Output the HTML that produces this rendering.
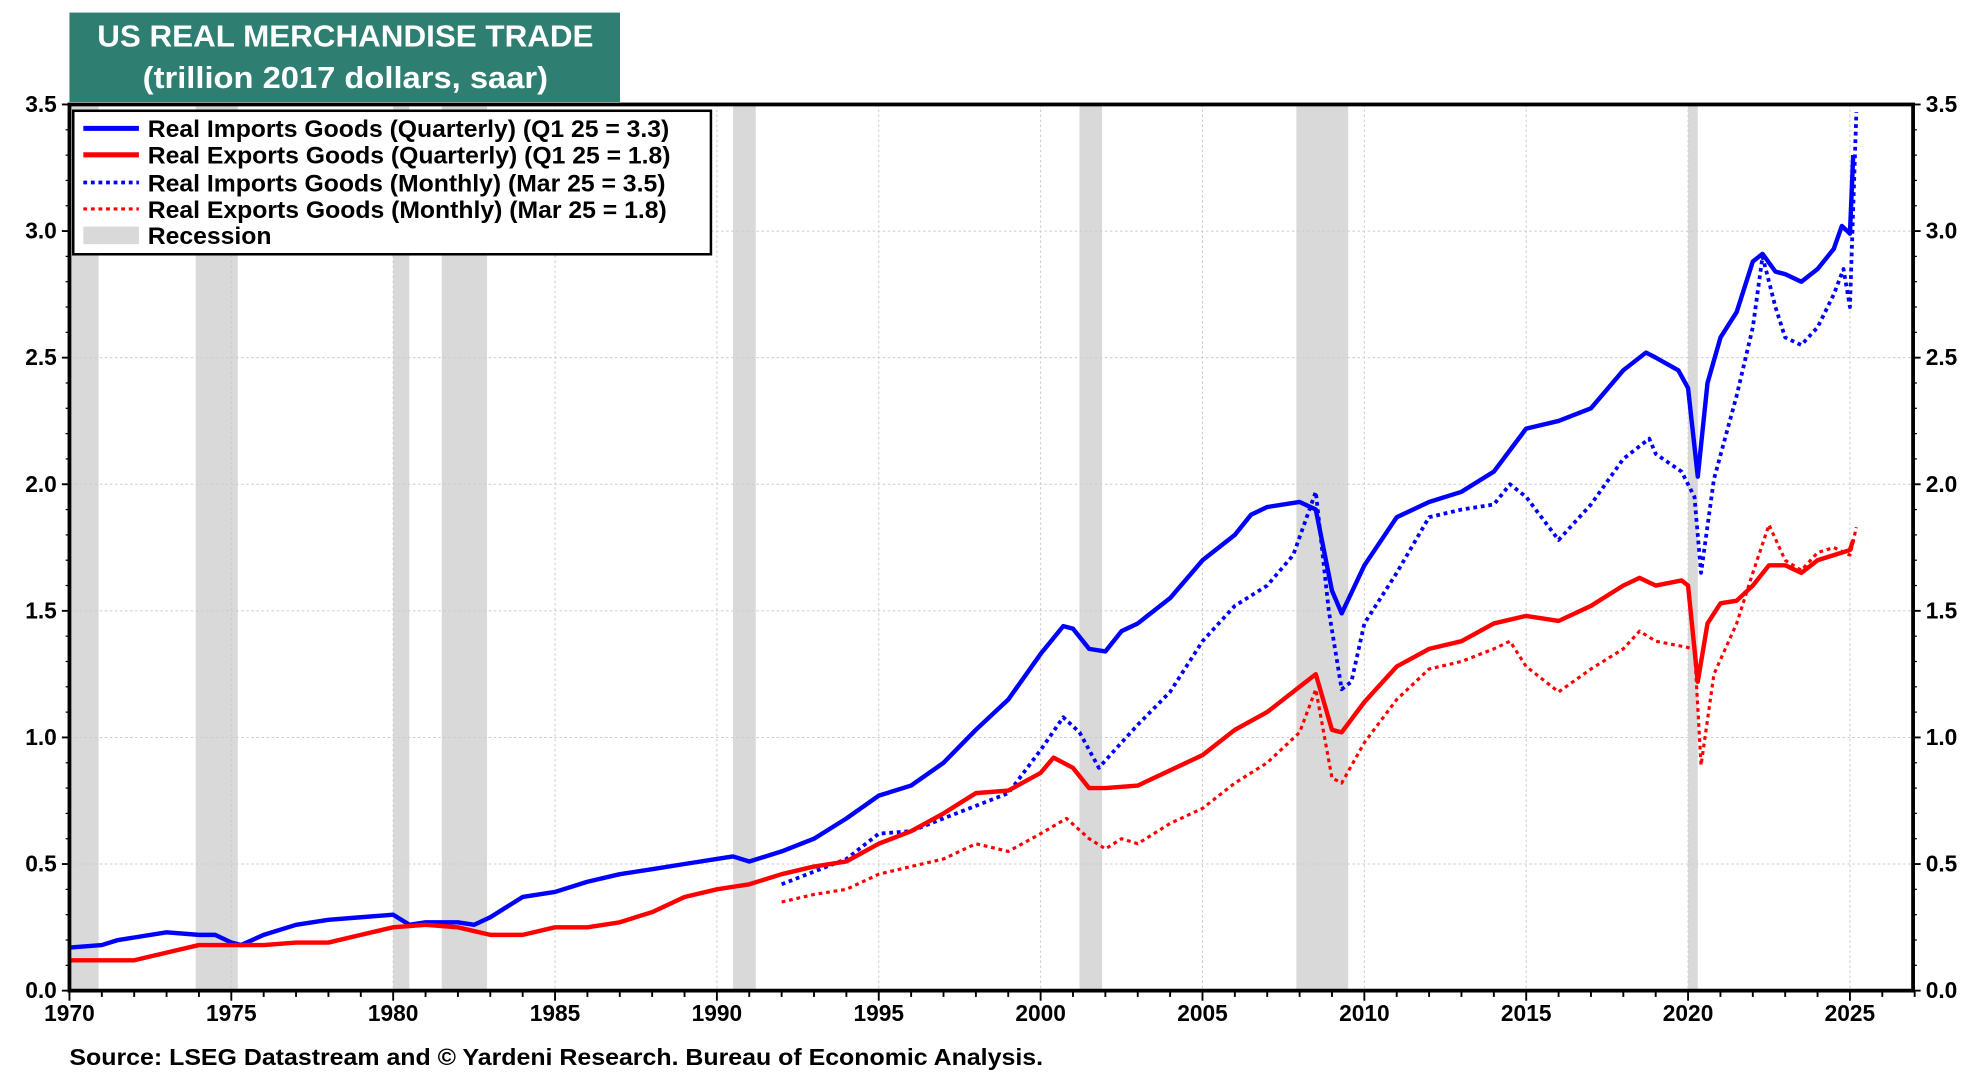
<!DOCTYPE html>
<html><head><meta charset="utf-8">
<style>
html,body{margin:0;padding:0;background:#fff;}
svg{display:block;font-family:"Liberation Sans",Arial,sans-serif;font-weight:bold;}
</style></head>
<body>
<svg id="chart" width="1980" height="1080" viewBox="0 0 1568 858" preserveAspectRatio="none" xmlns="http://www.w3.org/2000/svg">
  <rect x="55" y="10" width="436" height="71" fill="#2e7f71"/>
  <text x="77" y="37" fill="#fff" font-size="24" textLength="393" lengthAdjust="spacingAndGlyphs">US REAL MERCHANDISE TRADE</text>
  <text x="113" y="70" fill="#fff" font-size="24" textLength="321" lengthAdjust="spacingAndGlyphs">(trillion 2017 dollars, saar)</text>
  <g id="rec"></g>
  <g id="grid"></g>
  <g id="series"></g>
  <g id="axes"></g>
  <g>
    <rect x="58" y="88" width="505" height="114" fill="#fff" stroke="#000" stroke-width="2"/>
    <line x1="66" y1="102" x2="110" y2="102" stroke="#0000ff" stroke-width="4"/>
    <text x="117" y="109" font-size="19" textLength="413" lengthAdjust="spacingAndGlyphs">Real Imports Goods (Quarterly) (Q1 25 = 3.3)</text>
    <line x1="66" y1="123" x2="110" y2="123" stroke="#ff0000" stroke-width="4"/>
    <text x="117" y="130" font-size="19" textLength="414" lengthAdjust="spacingAndGlyphs">Real Exports Goods (Quarterly) (Q1 25 = 1.8)</text>
    <line x1="66" y1="145" x2="110" y2="145" stroke="#0000ff" stroke-width="3" stroke-dasharray="3,3"/>
    <text x="117" y="152" font-size="19" textLength="410" lengthAdjust="spacingAndGlyphs">Real Imports Goods (Monthly) (Mar 25 = 3.5)</text>
    <line x1="66" y1="166" x2="110" y2="166" stroke="#ff0000" stroke-width="2.5" stroke-dasharray="3,3"/>
    <text x="117" y="173" font-size="19" textLength="411" lengthAdjust="spacingAndGlyphs">Real Exports Goods (Monthly) (Mar 25 = 1.8)</text>
    <rect x="66" y="180" width="44" height="14" fill="#d9d9d9"/>
    <text x="117" y="194" font-size="19" textLength="98" lengthAdjust="spacingAndGlyphs">Recession</text>
  </g>
  <text x="55" y="846" font-size="18" textLength="771" lengthAdjust="spacingAndGlyphs">Source: LSEG Datastream and © Yardeni Research. Bureau of Economic Analysis.</text>
</svg>
<script>
const yTicks = [0, 0.5, 1.0, 1.5, 2.0, 2.5, 3.0, 3.5];
const yTickLabels = ["0.0","0.5","1.0","1.5","2.0","2.5","3.0","3.5"];
const xTicks = [1970,1975,1980,1985,1990,1995,2000,2005,2010,2015,2020,2025];
const recStart = [1970.0,1973.9,1980.0,1981.5,1990.5,2001.2,2007.9,2020.0];
const recEnd   = [1970.9,1975.2,1980.5,1982.9,1991.2,2001.9,2009.5,2020.3];

const impQYears = [1970,1971,1971.5,1972,1973,1974,1974.5,1975,1975.3,1976,1977,1978,1979,1980,1980.5,1981,1982,1982.5,1983,1984,1985,1986,1987,1988,1989,1990,1990.5,1991,1992,1993,1994,1995,1996,1997,1998,1999,2000,2000.7,2001,2001.5,2002,2002.5,2003,2004,2005,2006,2006.5,2007,2008,2008.5,2009,2009.3,2010,2011,2012,2013,2014,2015,2016,2017,2018,2018.7,2019,2019.7,2020.0,2020.3,2020.6,2021,2021.5,2022.0,2022.3,2022.7,2023,2023.5,2024,2024.5,2024.75,2025,2025.1];
const impQVals = [0.17,0.18,0.2,0.21,0.23,0.22,0.22,0.19,0.18,0.22,0.26,0.28,0.29,0.30,0.26,0.27,0.27,0.26,0.29,0.37,0.39,0.43,0.46,0.48,0.50,0.52,0.53,0.51,0.55,0.60,0.68,0.77,0.81,0.90,1.03,1.15,1.33,1.44,1.43,1.35,1.34,1.42,1.45,1.55,1.70,1.80,1.88,1.91,1.93,1.90,1.58,1.49,1.68,1.87,1.93,1.97,2.05,2.22,2.25,2.30,2.45,2.52,2.50,2.45,2.38,2.03,2.40,2.58,2.68,2.88,2.91,2.84,2.83,2.80,2.85,2.93,3.02,2.99,3.30];

const expQYears = [1970,1972,1973,1974,1975,1976,1977,1978,1979,1980,1981,1982,1983,1984,1985,1986,1987,1988,1989,1990,1991,1992,1993,1994,1995,1996,1997,1998,1999,2000,2000.4,2001,2001.5,2002,2003,2004,2005,2006,2007,2008,2008.5,2009,2009.3,2010,2011,2012,2013,2014,2015,2016,2017,2018,2018.5,2019,2019.8,2020.0,2020.3,2020.6,2021,2021.5,2022,2022.5,2023,2023.5,2024,2024.5,2025,2025.1];
const expQVals = [0.12,0.12,0.15,0.18,0.18,0.18,0.19,0.19,0.22,0.25,0.26,0.25,0.22,0.22,0.25,0.25,0.27,0.31,0.37,0.40,0.42,0.46,0.49,0.51,0.58,0.63,0.70,0.78,0.79,0.86,0.92,0.88,0.80,0.80,0.81,0.87,0.93,1.03,1.10,1.20,1.25,1.03,1.02,1.14,1.28,1.35,1.38,1.45,1.48,1.46,1.52,1.60,1.63,1.60,1.62,1.60,1.22,1.45,1.53,1.54,1.60,1.68,1.68,1.65,1.70,1.72,1.74,1.78];

const impMYears = [1992,1993,1994,1995,1996,1997,1998,1999,2000,2000.7,2001.2,2001.8,2002.5,2003,2004,2005,2006,2007,2007.8,2008.5,2008.9,2009.3,2009.6,2010,2011,2012,2013,2014,2014.5,2015,2016,2017,2018,2018.8,2019,2019.8,2020.2,2020.4,2020.8,2021.5,2022.0,2022.3,2022.7,2023,2023.5,2024,2024.5,2024.8,2025.0,2025.2];
const impMVals = [0.42,0.47,0.52,0.62,0.63,0.68,0.73,0.78,0.95,1.08,1.02,0.88,0.98,1.05,1.18,1.38,1.52,1.60,1.72,1.97,1.50,1.19,1.22,1.45,1.65,1.87,1.90,1.92,2.00,1.95,1.78,1.92,2.10,2.18,2.12,2.05,1.95,1.65,2.02,2.35,2.62,2.90,2.70,2.58,2.55,2.62,2.75,2.85,2.70,3.47];

const expMYears = [1992,1993,1994,1995,1996,1997,1998,1999,2000,2000.8,2001.5,2002,2002.5,2003,2004,2005,2006,2007,2008,2008.5,2009,2009.3,2010,2011,2012,2013,2014,2014.5,2015,2016,2017,2018,2018.5,2019,2019.8,2020.2,2020.4,2020.8,2021.5,2022,2022.5,2023,2023.5,2024,2024.5,2025,2025.2];
const expMVals = [0.35,0.38,0.40,0.46,0.49,0.52,0.58,0.55,0.62,0.68,0.60,0.56,0.60,0.58,0.66,0.72,0.82,0.90,1.02,1.19,0.84,0.82,0.98,1.15,1.27,1.30,1.35,1.38,1.28,1.18,1.27,1.35,1.42,1.38,1.36,1.35,0.89,1.25,1.45,1.65,1.84,1.70,1.66,1.73,1.75,1.72,1.83];

const NS = "http://www.w3.org/2000/svg";
const L = 55, R = 1515, T = 83, B = 787;
const xS = yr => L + (yr - 1970) * (1410 / 55);
const yS = v => B - v * ((B - T) / 3.5);
function mk(tag, attrs, parent) {
  const e = document.createElementNS(NS, tag);
  for (const k in attrs) e.setAttribute(k, attrs[k]);
  parent.appendChild(e);
  return e;
}
const rec = document.getElementById('rec');
recStart.forEach((s, i) => {
  const r = mk('rect', {x: xS(s), y: T, width: xS(recEnd[i]) - xS(s), height: B - T, fill: '#d9d9d9'}, rec);
  
  
});
const grid = document.getElementById('grid');
yTicks.forEach(v => {
  if (v === 0) return;
  const g = mk('line', {x1: L, x2: R, y1: yS(v), y2: yS(v), stroke: '#cccccc', 'stroke-width': 0.8, 'stroke-dasharray': '2,2'}, grid);
  
  
});
xTicks.forEach(yr => {
  const g = mk('line', {x1: xS(yr), x2: xS(yr), y1: T, y2: B, stroke: '#cccccc', 'stroke-width': 0.8, 'stroke-dasharray': '2,2'}, grid);
  
  
});
const ser = document.getElementById('series');
function line(xs, vs, color, w, dash, name) {
  const d = xs.map((x, i) => (i ? 'L' : 'M') + xS(x).toFixed(1) + ',' + yS(vs[i]).toFixed(1)).join(' ');
  const p = mk('path', {d: d, fill: 'none', stroke: color, 'stroke-width': w, 'stroke-linejoin': 'round'}, ser);
  if (dash) p.setAttribute('stroke-dasharray', dash);
  
  
}
line(impMYears, impMVals, '#0000ff', 3, '3,3', 'imports-monthly-line');
line(expMYears, expMVals, '#ff0000', 2.5, '3,3', 'exports-monthly-line');
line(impQYears, impQVals, '#0000ff', 3.5, null, 'imports-quarterly-line');
line(expQYears, expQVals, '#ff0000', 3.5, null, 'exports-quarterly-line');

const ax = document.getElementById('axes');
const frame = mk('rect', {x: L, y: T, width: R - L, height: B - T, fill: 'none', stroke: '#000', 'stroke-width': 3}, ax);


yTicks.forEach((v, i) => {
  mk('line', {x1: L - 6, x2: L, y1: yS(v), y2: yS(v), stroke: '#000', 'stroke-width': 1.5}, ax);
  mk('line', {x1: R, x2: R + 6, y1: yS(v), y2: yS(v), stroke: '#000', 'stroke-width': 1.5}, ax);
  const tl = mk('text', {x: L - 10, y: yS(v) + 6, 'font-size': 18, 'text-anchor': 'end'}, ax);
  tl.textContent = yTickLabels[i];
  
  
  const tr = mk('text', {x: R + 10, y: yS(v) + 6, 'font-size': 18, 'text-anchor': 'start'}, ax);
  tr.textContent = yTickLabels[i];
  
  
  if (i < yTicks.length - 1) {
    [0.1, 0.2, 0.3, 0.4].forEach(f => {
      const vv = v + f;
      mk('line', {x1: L - 3, x2: L, y1: yS(vv), y2: yS(vv), stroke: '#000', 'stroke-width': 1}, ax);
      mk('line', {x1: R, x2: R + 3, y1: yS(vv), y2: yS(vv), stroke: '#000', 'stroke-width': 1}, ax);
    });
  }
});
for (let yr = 1970; yr <= 2027; yr++) {
  const major = xTicks.indexOf(yr) >= 0;
  mk('line', {x1: xS(yr), x2: xS(yr), y1: B, y2: B + (major ? 8 : 5), stroke: '#000', 'stroke-width': 1.5}, ax);
}
xTicks.forEach(yr => {
  const t = mk('text', {x: xS(yr), y: B + 24, 'font-size': 18, 'text-anchor': 'middle'}, ax);
  t.textContent = String(yr);
  
  
});
</script>
</body></html>
